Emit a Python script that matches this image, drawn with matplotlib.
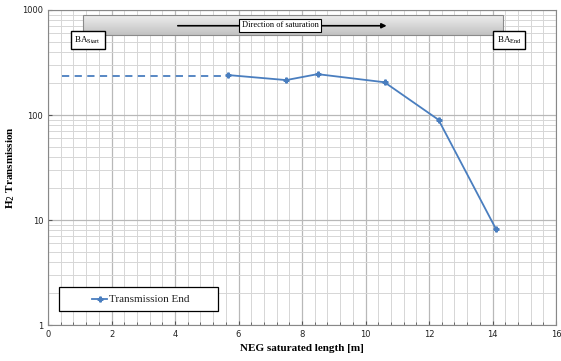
import numpy as np
import matplotlib.pyplot as plt
from matplotlib.patches import Rectangle
from matplotlib.ticker import MultipleLocator, LogLocator, NullFormatter, FixedLocator

# measured points
length = [5.68, 7.5, 8.49, 10.6, 12.3, 14.1]
transmission = [240, 215, 245, 205, 90, 8.3]
# extrapolated dashed part
dash_x = [0.45, 5.5]
dash_y = [235, 235]

xticks = [0, 2, 4, 6, 8, 10, 12, 14, 16]
yticks = [1, 10, 100, 1000]

serif = ['Liberation Serif', 'DejaVu Serif']
blue = '#4a7ebf'

fig = plt.figure(figsize=(5.61, 3.61), dpi=100)
ax = fig.add_axes([0.0856, 0.0997, 0.9055, 0.8726])
ax.set_yscale('log')
ax.set_xlim(0, 16)
ax.set_ylim(1, 1000)

ax.xaxis.set_major_locator(FixedLocator(xticks))
ax.xaxis.set_minor_locator(MultipleLocator(0.4))
ax.yaxis.set_major_locator(FixedLocator(yticks))
ax.yaxis.set_minor_locator(LogLocator(base=10, subs=np.arange(2, 10)))
ax.yaxis.set_minor_formatter(NullFormatter())
ax.set_yticklabels([str(v) for v in yticks])
ax.grid(which='major', color='#b8b8b8', lw=0.9)
ax.grid(which='minor', color='#d6d6d6', lw=0.7)
ax.set_axisbelow(True)
ax.tick_params(which='both', direction='in', labelsize=6, colors='#555555', labelcolor='#222222')
ax.tick_params(which='major', length=3)
ax.tick_params(which='minor', length=2)
ax.tick_params(axis='y', which='minor', length=0)
for s in ax.spines.values():
    s.set_color('#888888')

ax.plot(dash_x, dash_y, ls=(0, (4, 3)), color=blue, lw=1.3)
line, = ax.plot(length, transmission, color=blue, lw=1.3, marker='P', ms=3.5,
                label='Transmission End')

ax.set_xlabel('NEG saturated length [m]', family=serif, fontweight='bold', fontsize=8)
ax.set_ylabel('H$_2$ Transmission', family=serif, fontweight='bold', fontsize=8)

# gray "direction of saturation" bar with gradient
x0, x1, y0, y1 = 0.0689, 0.896, 0.9206, 0.984
shade = np.linspace(0.93, 0.76, 40)
grad = np.dstack([shade, shade, shade]).reshape(-1, 1, 3)
ax.imshow(grad, aspect='auto', extent=(x0, x1, y0, y1), transform=ax.transAxes,
          zorder=3, origin='upper', interpolation='bilinear')
ax.add_patch(Rectangle((x0, y0), x1 - x0, y1 - y0, transform=ax.transAxes,
                       fill=False, ec='#8a8a8a', lw=0.8, zorder=4))
ax.set_xlim(0, 16)
ax.set_ylim(1, 1000)
ax.annotate('', xy=(0.672, 0.950), xytext=(0.25, 0.950), xycoords='axes fraction',
            arrowprops=dict(arrowstyle='-|>', color='black', lw=1.2, mutation_scale=7), zorder=5)
ax.text(0.457, 0.952, 'Direction of saturation', transform=ax.transAxes, ha='center', va='center',
        family=serif, fontsize=6, zorder=6,
        bbox=dict(boxstyle='square,pad=0.3', fc='white', ec='black', lw=0.8))

ax.text(0.052, 0.905, 'BA$_{\\mathregular{Start}}$', transform=ax.transAxes, ha='left', va='center',
        family=serif, fontsize=6.5, zorder=6,
        bbox=dict(boxstyle='square,pad=0.4', fc='white', ec='black', lw=1.0))
ax.text(0.883, 0.905, 'BA$_{\\mathregular{End}}$', transform=ax.transAxes, ha='left', va='center',
        family=serif, fontsize=6.5, zorder=6,
        bbox=dict(boxstyle='square,pad=0.4', fc='white', ec='black', lw=1.0))

# legend box
lg_x0, lg_x1, lg_y0, lg_y1 = 0.0217, 0.335, 0.0445, 0.121
ax.add_patch(Rectangle((lg_x0, lg_y0), lg_x1 - lg_x0, lg_y1 - lg_y0, transform=ax.transAxes,
                       fc='white', ec='black', lw=0.9, zorder=5))
ax.plot([0.087, 0.116], [0.0825, 0.0825], transform=ax.transAxes, color=blue, lw=1.3,
        zorder=6, clip_on=False)
ax.plot([0.1015], [0.0825], transform=ax.transAxes, color=blue, marker='P', ms=3.5,
        zorder=6, clip_on=False)
ax.text(0.121, 0.0825, 'Transmission End', transform=ax.transAxes, ha='left', va='center',
        family=serif, fontsize=8, color='#222222', zorder=6)

fig.savefig('out.png', dpi=100)
